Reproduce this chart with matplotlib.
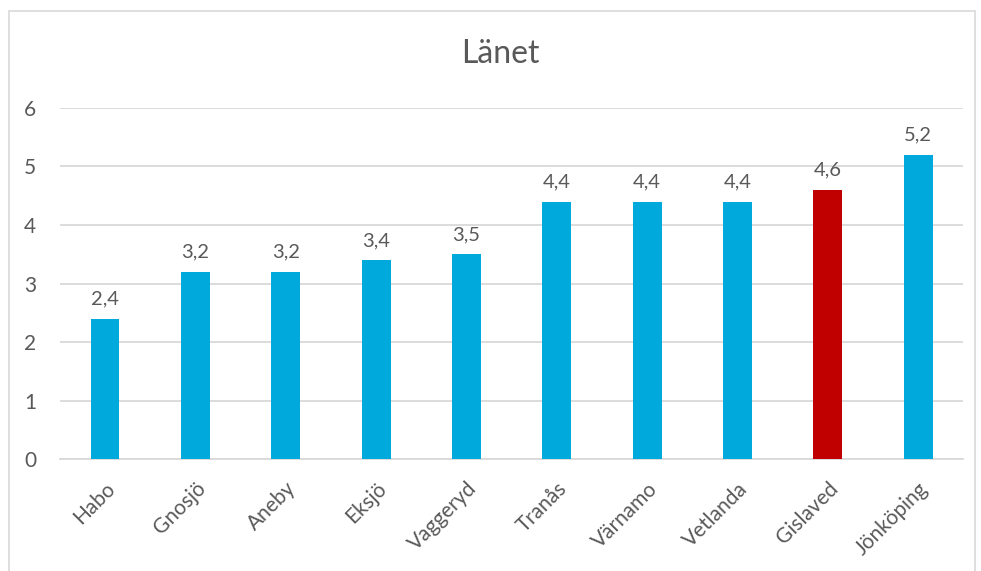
import matplotlib
matplotlib.use('Agg')
import matplotlib.pyplot as plt
from matplotlib.patches import Rectangle

kommuner = ["Habo", "Gnosjö", "Aneby", "Eksjö", "Vaggeryd", "Tranås",
            "Värnamo", "Vetlanda", "Gislaved", "Jönköping"]
varden = [2.4, 3.2, 3.2, 3.4, 3.5, 4.4, 4.4, 4.4, 4.6, 5.2]
markerad = "Gislaved"

blue = "#00A9DB"
red = "#C00000"
textcolor = "#595959"
gridcolor = "#D9D9D9"

plt.rcParams['font.family'] = ['Lato', 'DejaVu Sans']

fig = plt.figure(figsize=(9.81, 5.71), dpi=100)
ax = fig.add_axes([0.061, 0.196, 0.921, 0.615])

# yttre ram runt diagrammet
fig.patches.append(Rectangle((9/981, -0.05), (975-9)/981, 1.05 - 11/571,
                             transform=fig.transFigure, fill=False,
                             edgecolor=gridcolor, linewidth=1.2))

colors = [red if k == markerad else blue for k in kommuner]
x = range(len(kommuner))
bars = ax.bar(x, varden, width=0.32, color=colors, zorder=3)

for b, v in zip(bars, varden):
    ax.annotate(f"{v:.1f}".replace(".", ","), (b.get_x() + b.get_width()/2, v),
                xytext=(0, 8), textcoords="offset points", ha="center", va="bottom",
                fontsize=14.5, color=textcolor)

ax.set_xlim(-0.5, len(kommuner) - 0.5)
ax.set_ylim(0, 6)
ax.set_yticks(range(0, 7))
ax.yaxis.grid(True, color=gridcolor, linewidth=1.3, zorder=0)
ax.set_axisbelow(True)
for s in ["top", "right", "left"]:
    ax.spines[s].set_visible(False)
ax.spines["bottom"].set_color(gridcolor)
ax.spines["bottom"].set_linewidth(1.3)
ax.tick_params(axis="both", length=0, colors=textcolor, labelsize=15)
ax.tick_params(axis="y", pad=17)
ax.set_xticks(list(x))
ax.set_xticklabels(kommuner, rotation=45, ha="right", rotation_mode="anchor")
ax.tick_params(axis="x", pad=14)

fig.text(0.51, 0.905, "Länet", ha="center", va="center", fontsize=23, color=textcolor)

fig.savefig("out.png", dpi=100)
